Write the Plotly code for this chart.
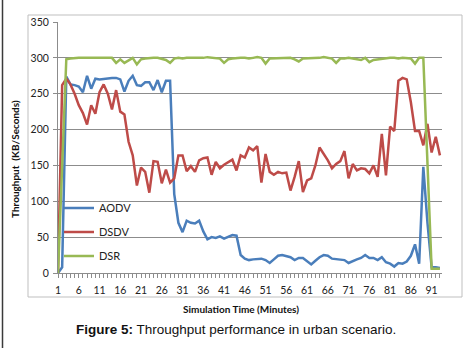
import plotly.graph_objects as go

minutes = list(range(1, 94))

aodv = [0, 8, 274, 263, 262, 260, 252, 275, 257, 271,
        270, 271, 271, 272, 272, 270, 253, 268, 275, 262,
        261, 266, 266, 255, 269, 252, 268, 268, 110, 70,
        57, 73, 70, 69, 73, 58, 47, 50, 49, 51,
        48, 50, 53, 52, 25, 20, 18, 19, 20, 20,
        18, 14, 19, 24, 25, 23, 22, 18, 21, 21,
        16, 12, 17, 22, 25, 24, 20, 19, 18, 18,
        14, 17, 19, 21, 25, 21, 21, 18, 22, 15,
        13, 9, 14, 13, 16, 24, 40, 13, 148, 70,
        8, 8, 7]

dsdv = [0, 262, 271, 263, 250, 234, 223, 207, 234, 222,
        252, 263, 250, 228, 255, 225, 221, 183, 164, 122,
        147, 141, 112, 156, 155, 125, 144, 126, 132, 164,
        164, 142, 149, 141, 157, 160, 161, 137, 155, 146,
        151, 155, 158, 143, 164, 161, 175, 171, 177, 126,
        166, 141, 137, 141, 139, 140, 115, 134, 156, 113,
        129, 132, 150, 175, 166, 157, 146, 152, 156, 170,
        132, 152, 143, 146, 145, 139, 150, 134, 194, 136,
        204, 198, 268, 272, 270, 238, 198, 198, 178, 208,
        168, 190, 164]

dsr = [0, 140, 298, 299, 300, 300, 300, 300, 299, 300,
       300, 299, 300, 300, 293, 298, 293, 297, 300, 291,
       298, 299, 300, 300, 300, 299, 297, 293, 299, 300,
       299, 300, 300, 300, 299, 300, 301, 300, 300, 299,
       293, 298, 299, 300, 300, 300, 299, 300, 301, 300,
       292, 299, 299, 300, 299, 300, 300, 298, 295, 299,
       299, 300, 300, 300, 301, 300, 299, 293, 299, 299,
       300, 299, 298, 297, 300, 294, 297, 298, 299, 299,
       300, 300, 299, 300, 300, 299, 292, 300, 300, 145,
       6, 6, 6]

series = [("AODV", aodv, "#4A7EBB"), ("DSDV", dsdv, "#BE4B48"), ("DSR", dsr, "#98B954")]

W, H = 469, 348
L, R, T, B = 58, 442, 22, 273
pw, ph = R - L, B - T


def px(x):
    return (x - L) / pw


def py(y):
    return (B - y) / ph


fig = go.Figure()
for i, (name, vals, col) in enumerate(series):
    fig.add_trace(go.Scatter(x=minutes, y=vals, name=name, mode="lines",
                             line=dict(color=col, width=2.5), legendgroup=name))

grid = "#8C8C8C"
tickfont = dict(family="Lato, Carlito, sans-serif", size=10.5, color="#222")

fig.update_layout(
    width=W, height=H,
    margin=dict(l=L, r=W - R, t=T, b=H - B),
    paper_bgcolor="white", plot_bgcolor="white",
    showlegend=True,
    legend=dict(x=px(59), y=py(232), xanchor="left", yanchor="middle",
                font=dict(family="Lato, Carlito, sans-serif", size=11, color="#222"),
                bgcolor="rgba(0,0,0,0)", tracegroupgap=5),
    xaxis=dict(range=[1, 93.5], tickmode="linear", tick0=1, dtick=5,
               ticks="outside", ticklen=4, tickcolor=grid, showgrid=False,
               showline=True, linecolor=grid, linewidth=1, zeroline=False,
               tickfont=tickfont, ticklabelstandoff=3,
               minor=dict(dtick=1, tick0=1, ticks="outside", ticklen=4,
                          tickcolor=grid, showgrid=False)),
    yaxis=dict(range=[0, 350], tickmode="linear", tick0=0, dtick=50,
               ticks="outside", ticklen=4, tickcolor=grid,
               showgrid=True, gridcolor=grid, gridwidth=1,
               showline=True, linecolor=grid, linewidth=1, zeroline=False,
               tickfont=tickfont, ticklabelstandoff=2),
)

shapes = [
    dict(type="rect", xref="paper", yref="paper",
         x0=px(28), x1=px(462), y0=py(297), y1=py(15),
         line=dict(color="#BFBFBF", width=1), layer="below"),
    dict(type="line", xref="paper", yref="paper",
         x0=px(2.5), x1=px(2.5), y0=py(348), y1=py(0),
         line=dict(color="#3A3A3A", width=1.5)),
]
fig.update_layout(shapes=shapes)

fig.add_annotation(text="<b>Throughput  (KB/Seconds)</b>", textangle=-90,
                   xref="paper", yref="paper", x=px(15), y=py(159),
                   showarrow=False, xanchor="center", yanchor="middle",
                   font=dict(family="Lato, Carlito, sans-serif", size=10, color="#111"))
fig.add_annotation(text="<b>Simulation Time (Minutes)</b>",
                   xref="paper", yref="paper", x=px(241), y=py(309),
                   showarrow=False, xanchor="center", yanchor="middle",
                   font=dict(family="Lato, Carlito, sans-serif", size=10, color="#111"))
fig.add_annotation(text="<b>Figure 5:</b> Throughput performance in urban scenario.",
                   xref="paper", yref="paper", x=px(236), y=py(329),
                   showarrow=False, xanchor="center", yanchor="middle",
                   font=dict(family="Liberation Sans, Arial, sans-serif", size=13.5, color="#111"))

fig.write_html("out.html", config={"displayModeBar": False},
               post_script="document.body.style.margin='0';document.body.style.overflow='hidden';")
